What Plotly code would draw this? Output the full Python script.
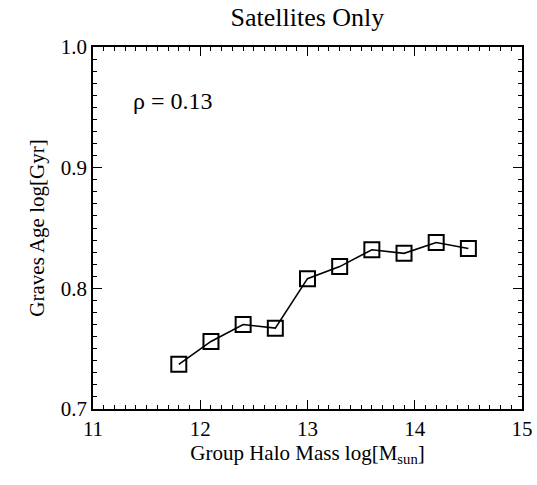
import plotly.graph_objects as go

halo_mass = [11.8, 12.1, 12.4, 12.7, 13.0, 13.3, 13.6, 13.9, 14.2, 14.5]
graves_age = [0.737, 0.756, 0.770, 0.767, 0.808, 0.818, 0.832, 0.829, 0.838, 0.833]
x_ticks = [11, 12, 13, 14, 15]
y_ticks = [0.7, 0.8, 0.9, 1.0]
rho_text = "ρ = 0.13"

FONT = "Liberation Serif"
X_RANGE = [11, 15]
Y_RANGE = [0.7, 1.0]

fig = go.Figure()
# invisible companion trace that carries the minor-tick axes
fig.add_trace(go.Scatter(
    x=halo_mass, y=graves_age, xaxis="x2", yaxis="y2", mode="markers",
    marker=dict(opacity=0), hoverinfo="skip", showlegend=False,
))
fig.add_trace(go.Scatter(
    x=halo_mass, y=graves_age, mode="lines+markers",
    line=dict(color="black", width=1.6),
    marker=dict(symbol="square-open", size=15, color="black", line=dict(width=2, color="black")),
    showlegend=False,
))

fig.update_layout(
    template="none",
    width=537, height=485,
    margin=dict(l=93, r=15, t=47, b=76),
    paper_bgcolor="white", plot_bgcolor="white",
    font=dict(family=FONT, color="black", size=21),
    title=dict(text="Satellites Only", x=0.5725, xanchor="center", y=0.965, yanchor="middle",
               font=dict(family=FONT, size=26, color="black")),
    annotations=[dict(text=rho_text, x=11.35, y=0.955, xref="x", yref="y",
                      xanchor="left", yanchor="middle", showarrow=False,
                      font=dict(family=FONT, size=24, color="black"))],
    xaxis=dict(range=X_RANGE, tickvals=x_ticks,
               showgrid=False, zeroline=False, showline=True, linecolor="black", linewidth=1.5,
               mirror="ticks", ticks="inside", ticklen=9, tickwidth=1.3, tickcolor="black",
               tickfont=dict(family=FONT, size=21, color="black"),
               title=dict(text="Group Halo Mass log[M<sub>sun</sub>]", standoff=4,
                          font=dict(family=FONT, size=21, color="black"))),
    yaxis=dict(range=Y_RANGE, tickvals=y_ticks, tickformat=".1f",
               showgrid=False, zeroline=False, showline=True, linecolor="black", linewidth=1.5,
               mirror="ticks", ticks="inside", ticklen=9, tickwidth=1.3, tickcolor="black",
               tickfont=dict(family=FONT, size=21, color="black"),
               title=dict(text="Graves Age log[Gyr]", standoff=10,
                          font=dict(family=FONT, size=21, color="black"))),
    xaxis2=dict(range=X_RANGE, overlaying="x", anchor="y", side="bottom",
                tick0=11, dtick=0.1, ticks="inside", ticklen=4, tickwidth=1, tickcolor="black",
                showticklabels=False, showgrid=False, zeroline=False,
                showline=False, mirror="ticks"),
    yaxis2=dict(range=Y_RANGE, overlaying="y", anchor="x", side="left",
                tick0=0.7, dtick=0.01, ticks="inside", ticklen=4, tickwidth=1, tickcolor="black",
                showticklabels=False, showgrid=False, zeroline=False,
                showline=False, mirror="ticks"),
)

fig.write_html("out.html")
